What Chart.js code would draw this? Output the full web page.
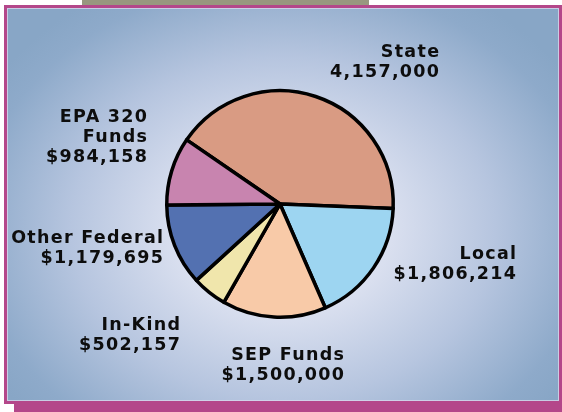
<!DOCTYPE html>
<html lang="en">
<head>
    <meta charset="UTF-8">
    <title>Funding Sources</title>
    <style>
        body { margin: 0; width: 562px; height: 412px; background: #fff; position: relative; overflow: hidden; }
        #tab { position: absolute; left: 82px; top: 0; width: 287px; height: 5px; background: #98977f; }
        #shadow { position: absolute; left: 14px; top: 403px; width: 548px; height: 9px; background: #b4478a; }
        #frame {
            position: absolute; left: 4px; top: 5px; width: 558px; height: 399px;
            box-sizing: border-box; border: 3px solid #b4478a;
            box-shadow: inset 0 0 0 1px rgba(215, 215, 235, 0.8);
            background: radial-gradient(ellipse 62% 70% at 50% 56%, #e8ebf5 0%, #d9dfef 32%, #b6c5df 62%, #8eaaca 90%, #88a6c6 100%);
        }
        #pie { position: absolute; left: 0; top: 0; }
    </style>
</head>
<body>
    <div id="tab"></div>
    <div id="shadow"></div>
    <div id="frame"></div>
    <canvas id="pie" width="562" height="412"></canvas>
    <script src="https://cdn.jsdelivr.net/npm/chart.js"></script>
    <script>
        // funding sources, clockwise from the top-left
        const sources = ['State', 'Local', 'SEP Funds', 'In-Kind', 'Other Federal', 'EPA 320\nFunds'];
        const amounts = [4157000, 1806214, 1500000, 502157, 1179695, 984158];
        const prefixes = ['', '$', '$', '$', '$', '$'];
        const sliceColors = ['#d99b83', '#9dd5f1', '#f8caa8', '#f0e6ac', '#5371b1', '#c884af'];

        // where each label block sits (right edge, first baseline), relative to the pie centre
        const labelOffsets = [[159, -147], [236, 55], [64, 156], [-100, 126], [-117, 39], [-133, -82]];

        const labelPlugin = {
            id: 'sliceLabels',
            afterDatasetsDraw(chart) {
                const arc = chart.getDatasetMeta(0).data[0];
                const ctx = chart.ctx;
                const spacing = 1.3;
                ctx.save();
                ctx.font = 'bold 17.5px "DejaVu Sans", Verdana, sans-serif';
                ctx.letterSpacing = spacing + 'px';
                ctx.fillStyle = '#0d0d0d';
                ctx.textAlign = 'right';
                ctx.textBaseline = 'alphabetic';
                sources.forEach((name, i) => {
                    const lines = name.split('\n');
                    lines.push(prefixes[i] + amounts[i].toLocaleString('en-US'));
                    const x = arc.x + labelOffsets[i][0] + spacing;
                    lines.forEach((line, j) => {
                        ctx.fillText(line, x, arc.y + labelOffsets[i][1] + j * 20);
                    });
                });
                ctx.restore();
            }
        };

        new Chart(document.getElementById('pie').getContext('2d'), {
            type: 'pie',
            data: {
                labels: sources,
                datasets: [{
                    data: amounts,
                    backgroundColor: sliceColors,
                    borderColor: '#000',
                    borderWidth: 3.5,
                    borderJoinStyle: 'round'
                }]
            },
            options: {
                responsive: false,
                animation: false,
                rotation: -55.5,
                layout: { padding: { left: 165, right: 167, top: 89, bottom: 93 } },
                plugins: {
                    legend: { display: false },
                    tooltip: { enabled: false }
                }
            },
            plugins: [labelPlugin]
        });
    </script>
</body>
</html>
